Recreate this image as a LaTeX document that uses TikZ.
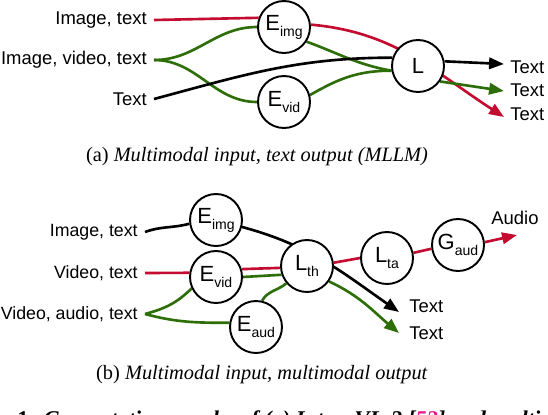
\documentclass[tikz,border=0pt]{standalone}
\usepackage{fontspec}
\setmainfont{Liberation Serif}
\setsansfont{Liberation Sans}
\usetikzlibrary{arrows.meta,backgrounds}
\definecolor{flowred}{RGB}{196,12,48}
\definecolor{flowgreen}{RGB}{45,110,8}
\definecolor{citepink}{RGB}{230,20,140}
\newcommand{\unitsub}[2]{#1\raisebox{-3.4pt}{\fontsize{8}{9}\selectfont #2}}

\begin{document}
\begin{tikzpicture}[
    x=0.02cm, y=0.02cm,
    unit/.style={circle, draw, line width=1.1pt, fill=white, minimum size=1.04cm, inner sep=0pt, font=\sffamily\fontsize{12.5}{13}\selectfont},
    inlabel/.style={anchor=east, inner sep=0.14cm, font=\sffamily\fontsize{10.5}{12}\selectfont},
    outlabel/.style={anchor=west, inner sep=0pt, font=\sffamily\fontsize{10.5}{12}\selectfont},
    flow/.style={line width=1.5pt},
    arrowflow/.style={flow, -{Triangle[length=8.5pt,width=6.5pt]}},
    caption/.style={font=\fontsize{11.6}{13}\selectfont}
]
\useasboundingbox (0,0) rectangle (548,414);

% (a) multimodal input, text output
\node[inlabel] (inA1) at (154,394) {Image, text};
\node[inlabel] (inA2) at (154,354) {Image, video, text};
\node[inlabel] (inA3) at (154,315) {Text};
\node[unit] (EimgA) at (284,387) {\unitsub{E}{img}};
\node[unit] (EvidA) at (284,312) {\unitsub{E}{vid}};
\node[unit] (LA) at (418,348) {L};
\coordinate (outA1) at (504,350);
\coordinate (outA2) at (504,323);
\coordinate (outA3) at (504,297);
\node[outlabel] (txtA1) at (510,347) {Text};
\node[outlabel] (txtA2) at (510,324) {Text};
\node[outlabel] (txtA3) at (510,300) {Text};
\node[caption] (capA) at (257,257) {(a) \textit{Multimodal input, text output (MLLM)}};

% (b) multimodal input, multimodal output
\node[inlabel, font=\sffamily\fontsize{10.1}{12}\selectfont] (inB1) at (145,182) {Image, text};
\node[inlabel, font=\sffamily\fontsize{10.1}{12}\selectfont] (inB2) at (145,141) {Video, text};
\node[inlabel, font=\sffamily\fontsize{10.1}{12}\selectfont] (inB3) at (145,100) {Video, audio, text};
\node[unit] (EimgB) at (216,194) {\unitsub{E}{img}};
\node[unit] (EvidB) at (216,137) {\unitsub{E}{vid}};
\node[unit] (EaudB) at (256,87) {\unitsub{E}{aud}};
\node[unit] (LthB) at (307,148) {\unitsub{L}{th}};
\node[unit] (LtaB) at (387,156) {\unitsub{L}{ta}};
\node[unit] (GaudB) at (458,169) {\unitsub{G}{aud}};
\coordinate (outB1) at (399,102);
\coordinate (outB2) at (399,81);
\coordinate (outB3) at (517,179);
\node[outlabel] (txtB1) at (409,108) {Text};
\node[outlabel] (txtB2) at (409,81) {Text};
\node[outlabel, anchor=center] (txtB3) at (515,196) {Audio};
\node[caption] (capB) at (262,39) {(b) \textit{Multimodal input, multimodal output}};

\node[anchor=base west, inner sep=0pt, font=\fontsize{12.8}{14}\selectfont] (figcap) at (17,-12)
    {\textbf{1:} \textbf{\textit{Computation graphs of (a) InternVL-2 [\textcolor{citepink}{52}] and multimodal}}};

\begin{scope}[on background layer]
% top graph
\draw[flow, flowred] (inA1.east) -- (EimgA.160);
\draw[arrowflow, flowred] (EimgA.5) to[out=-5, in=147] (outA3);
\draw[flow, flowgreen] (inA2.east) to[out=0, in=180] (EimgA.west);
\draw[flow, flowgreen] (inA2.east) to[out=0, in=180] (EvidA.west);
\draw[flow, flowgreen] (EimgA.-33) to[out=-20, in=170] (LA.190);
\draw[flow, flowgreen] (EvidA.15) to[out=30, in=180] (LA.190);
\draw[arrowflow, flowgreen] (LA.-35) -- (outA2);
\draw[flow] (inA3.east) to[out=15, in=180] (LA.162);
\draw[arrowflow] (LA.10) -- (outA1);

% bottom graph
\draw[flow] (inB1.east) to[out=20, in=195] (EimgB.188);
\draw[arrowflow] (EimgB.-15) to[out=-15, in=145] (outB1);
\draw[flow, flowred] (inB2.east) -- (EvidB.171);
\draw[flow, flowred] (EvidB.17) -- (LthB.184);
\draw[flow, flowred] (LthB.7) -- (LtaB.west);
\draw[flow, flowred] (LtaB.11) -- (GaudB.188);
\draw[arrowflow, flowred] (GaudB.6) -- (outB3);
\draw[flow, flowgreen] (inB3.east) to[out=15, in=225] (EvidB.205);
\draw[flow, flowgreen] (inB3.east) to[out=-15, in=180] (EaudB.171);
\draw[flow, flowgreen] (EvidB.east) -- (LthB.199);
\draw[flow, flowgreen] (EaudB.77) to[out=60, in=220] (LthB.220);
\draw[arrowflow, flowgreen] (LthB.-35) to[out=-25, in=140] (outB2);
\end{scope}
\end{tikzpicture}
\end{document}
